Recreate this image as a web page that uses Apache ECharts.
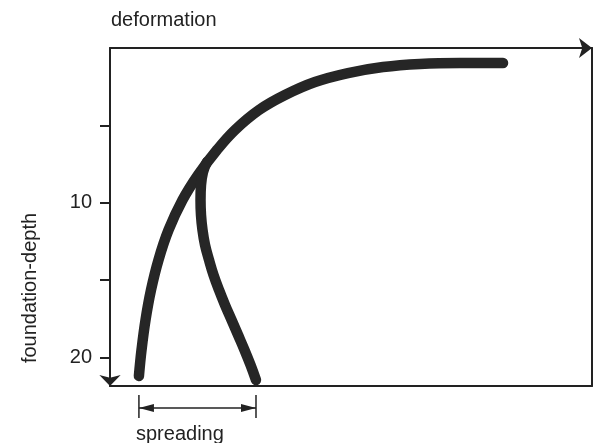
<!DOCTYPE html>
<html>
<head>
<meta charset="utf-8">
<title>deformation vs foundation-depth</title>
<script src="https://cdn.jsdelivr.net/npm/echarts@6/dist/echarts.min.js"></script>
<style>
  html, body { margin: 0; padding: 0; background: #ffffff; }
  #chart { width: 598px; height: 443px; }
</style>
</head>
<body>
<div id="chart"></div>
<script>
// Depth axis: ticks every 5, labelled only at 10 and 20
const depthTicks = [5, 10, 15, 20];
const depthLabels = [10, 20];
const depthMax = 21.85;
const deformMax = 100;

// Main curve: deformation (x) against foundation depth (y, downwards)
const mainCurve = [
  [6.0, 21.2], [6.54, 19.52], [7.37, 17.58], [8.51, 15.64], [10.06, 13.7],
  [12.14, 11.77], [15.04, 9.83], [18.26, 8.21], [22.2, 6.59], [25.93, 5.3],
  [30.91, 4.01], [36.31, 3.04], [42.53, 2.2], [49.38, 1.62], [56.64, 1.23],
  [64.32, 1.03], [72.61, 0.97], [81.54, 0.97]
];

// Branch curve: spreading of the lower part
const branchCurve = [
  [20.12, 7.37], [19.29, 8.02], [18.88, 8.86], [18.78, 9.83], [18.88, 10.8],
  [19.19, 11.77], [19.71, 12.73], [20.54, 13.7], [21.47, 14.67], [22.61, 15.64],
  [23.86, 16.61], [25.21, 17.58], [26.56, 18.55], [27.9, 19.52], [29.15, 20.49],
  [30.29, 21.46]
];

const ink = '#222222';
const curveInk = '#262626';
const font = '"Liberation Sans", Arial, Helvetica, sans-serif';

const chart = echarts.init(document.getElementById('chart'), null, { renderer: 'canvas' });

const curveStyle = { color: curveInk, width: 10.5, cap: 'round', join: 'round' };

chart.setOption({
  animation: false,
  backgroundColor: '#ffffff',
  grid: { left: 110, top: 48, right: 6, bottom: 57 },
  xAxis: [
    {
      type: 'value', position: 'top', min: 0, max: deformMax,
      axisLine: { show: true, onZero: false, symbol: ['none', 'arrow'], symbolSize: [15, 13],
                  lineStyle: { color: ink, width: 2 } },
      axisTick: { show: false }, axisLabel: { show: false }, splitLine: { show: false }
    },
    {
      type: 'value', position: 'bottom', min: 0, max: deformMax,
      axisLine: { show: true, onZero: false, lineStyle: { color: ink, width: 2 } },
      axisTick: { show: false }, axisLabel: { show: false }, splitLine: { show: false }
    }
  ],
  yAxis: [
    {
      type: 'value', position: 'left', inverse: true, min: 0, max: depthMax,
      axisLine: { show: true, onZero: false, symbol: ['arrow', 'none'], symbolSize: [16, 11],
                  lineStyle: { color: ink, width: 2 } },
      axisTick: { show: true, length: 10, customValues: depthTicks,
                  lineStyle: { color: ink, width: 2 } },
      axisLabel: { customValues: depthLabels, margin: 18, fontSize: 20, color: ink, fontFamily: font },
      splitLine: { show: false }
    },
    {
      type: 'value', position: 'right', inverse: true, min: 0, max: depthMax,
      axisLine: { show: true, onZero: false, lineStyle: { color: ink, width: 2 } },
      axisTick: { show: false }, axisLabel: { show: false }, splitLine: { show: false }
    }
  ],
  series: [
    {
      type: 'line', xAxisIndex: 0, yAxisIndex: 0, data: mainCurve,
      smooth: 0.4, showSymbol: false, silent: true, lineStyle: curveStyle
    },
    {
      type: 'line', xAxisIndex: 0, yAxisIndex: 0, data: branchCurve,
      smooth: 0.4, showSymbol: false, silent: true, lineStyle: curveStyle
    },
    {
      // Dimension line marking the spreading between the two curve feet
      type: 'custom', xAxisIndex: 0, yAxisIndex: 0, clip: false, silent: true,
      data: [[mainCurve[0][0], branchCurve[branchCurve.length - 1][0]]],
      encode: { x: [0, 1] },
      renderItem(params, api) {
        const base = api.coord([0, depthMax])[1];
        const xa = api.coord([api.value(0), 0])[0];
        const xb = api.coord([api.value(1), 0])[0];
        const yc = base + 22;
        const stroke = { stroke: ink, lineWidth: 1.5 };
        return {
          type: 'group',
          children: [
            { type: 'line', shape: { x1: xa, y1: yc, x2: xb, y2: yc }, style: stroke },
            { type: 'line', shape: { x1: xa, y1: base + 9, x2: xa, y2: base + 32 }, style: stroke },
            { type: 'line', shape: { x1: xb, y1: base + 9, x2: xb, y2: base + 32 }, style: stroke },
            { type: 'polygon', shape: { points: [[xa, yc], [xa + 15, yc - 4], [xa + 15, yc + 4]] },
              style: { fill: ink } },
            { type: 'polygon', shape: { points: [[xb, yc], [xb - 15, yc - 4], [xb - 15, yc + 4]] },
              style: { fill: ink } }
          ]
        };
      }
    }
  ],
  graphic: [
    { type: 'text', x: 111, y: 20, silent: true,
      style: { text: 'deformation', fontSize: 20, fontFamily: font, fill: ink,
               align: 'left', verticalAlign: 'middle' } },
    { type: 'text', x: 30, y: 288, rotation: Math.PI / 2, silent: true,
      style: { text: 'foundation-depth', fontSize: 20, fontFamily: font, fill: ink,
               align: 'center', verticalAlign: 'middle' } },
    { type: 'text', x: 136, y: 434, silent: true,
      style: { text: 'spreading', fontSize: 20, fontFamily: font, fill: ink,
               align: 'left', verticalAlign: 'middle' } }
  ]
});
</script>
</body>
</html>
